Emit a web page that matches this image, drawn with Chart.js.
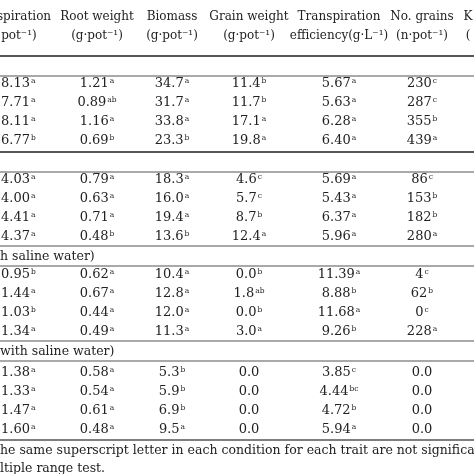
<!DOCTYPE html>
<html>
<head>
<meta charset="utf-8">
<script src="https://cdn.jsdelivr.net/npm/chart.js@4"></script>
<style>
  body { margin: 0; background: #fff; }
</style>
</head>
<body>
<canvas id="tableChart" width="474" height="474"></canvas>
<script>
// header texts (columns cut at page edges as in the source)
const headers = [
  ['spiration', '·pot⁻¹)'],
  ['Root weight', '(g·pot⁻¹)'],
  ['Biomass', '(g·pot⁻¹)'],
  ['Grain weight', '(g·pot⁻¹)'],
  ['Transpiration', 'efficiency(g·L⁻¹)'],
  ['No. grains', '(n·pot⁻¹)'],
  ['K', '(']
];

// values per column, with superscript letters
const transpiration = ['8.13', '7.71', '8.11', '6.77', '4.03', '4.00', '4.41', '4.37', '0.95', '1.44', '1.03', '1.34', '1.38', '1.33', '1.47', '1.60'];
const transpLetters = ['a', 'a', 'a', 'b', 'a', 'a', 'a', 'a', 'b', 'a', 'b', 'a', 'a', 'a', 'a', 'a'];
const rootWeight = ['1.21', '0.89', '1.16', '0.69', '0.79', '0.63', '0.71', '0.48', '0.62', '0.67', '0.44', '0.49', '0.58', '0.54', '0.61', '0.48'];
const rootLetters = ['a', 'ab', 'a', 'b', 'a', 'a', 'a', 'b', 'a', 'a', 'a', 'a', 'a', 'a', 'a', 'a'];
const biomass = ['34.7', '31.7', '33.8', '23.3', '18.3', '16.0', '19.4', '13.6', '10.4', '12.8', '12.0', '11.3', '5.3', '5.9', '6.9', '9.5'];
const biomassLetters = ['a', 'a', 'a', 'b', 'a', 'a', 'a', 'b', 'a', 'a', 'a', 'a', 'b', 'b', 'b', 'a'];
const grainWeight = ['11.4', '11.7', '17.1', '19.8', '4.6', '5.7', '8.7', '12.4', '0.0', '1.8', '0.0', '3.0', '0.0', '0.0', '0.0', '0.0'];
const grainLetters = ['b', 'b', 'a', 'a', 'c', 'c', 'b', 'a', 'b', 'ab', 'b', 'a', '', '', '', ''];
const efficiency = ['5.67', '5.63', '6.28', '6.40', '5.69', '5.43', '6.37', '5.96', '11.39', '8.88', '11.68', '9.26', '3.85', '4.44', '4.72', '5.94'];
const effLetters = ['a', 'a', 'a', 'a', 'a', 'a', 'a', 'a', 'a', 'b', 'a', 'b', 'c', 'bc', 'b', 'a'];
const grains = ['230', '287', '355', '439', '86', '153', '182', '280', '4', '62', '0', '228', '0.0', '0.0', '0.0', '0.0'];
const grainsLetters = ['c', 'c', 'b', 'a', 'c', 'b', 'b', 'a', 'c', 'b', 'c', 'a', '', '', '', ''];

const sectionTitles = ['', '', 'h saline water)', 'with saline water)'];
const footnote = ['he same superscript letter in each condition for each trait are not significantly', 'ltiple range test.'];

const columns = [
  [transpiration, transpLetters],
  [rootWeight, rootLetters],
  [biomass, biomassLetters],
  [grainWeight, grainLetters],
  [efficiency, effLetters],
  [grains, grainsLetters]
];

// layout (pixel units of the 474 box)
const colX = [25, 97, 172, 249, 339, 422, 468];
const headerY = [17, 36];
const sectionY = [66, 162, 257, 352];
const rowY = [84, 103, 122, 141, 180, 199, 218, 237, 275, 294, 313, 332, 373, 392, 411, 430];
const rules = [[56, 2.2], [76, 1.2], [152, 2.2], [172, 1.2], [246, 1.2], [266, 1.2], [341, 1.2], [361, 1.2], [440, 1.5]];
const footY = [451, 469];

const SERIF = '"DejaVu Serif", "Liberation Serif", serif';

const tablePlugin = {
  id: 'tablePlugin',
  afterDraw(chart) {
    const ctx = chart.ctx;
    const xs = chart.scales.x;
    const ys = chart.scales.y;
    ctx.save();
    ctx.fillStyle = '#fff';
    ctx.fillRect(0, 0, chart.width, chart.height);
    ctx.fillStyle = '#222';
    ctx.textBaseline = 'middle';

    // header
    ctx.font = '12px ' + SERIF;
    ctx.textAlign = 'center';
    headers.forEach((h, i) => {
      const x = xs.getPixelForValue(colX[i]);
      ctx.fillText(h[0], i === 0 ? x - 1 : x, ys.getPixelForValue(headerY[0]));
      ctx.fillText(h[1], i === 0 ? x - 8 : x, ys.getPixelForValue(headerY[1]));
    });

    // rules
    ctx.strokeStyle = '#555';
    rules.forEach(([y, w]) => {
      ctx.lineWidth = w;
      ctx.beginPath();
      ctx.moveTo(0, ys.getPixelForValue(y));
      ctx.lineTo(chart.width, ys.getPixelForValue(y));
      ctx.stroke();
    });

    // section titles
    ctx.textAlign = 'left';
    ctx.font = '12.5px ' + SERIF;
    sectionTitles.forEach((t, i) => {
      if (t) ctx.fillText(t, 0, ys.getPixelForValue(sectionY[i]));
    });

    // cells
    columns.forEach(([vals, letters], c) => {
      const cx = xs.getPixelForValue(colX[c]);
      vals.forEach((v, r) => {
        const y = ys.getPixelForValue(rowY[r]);
        ctx.font = '13px ' + SERIF;
        const w1 = ctx.measureText(v).width;
        ctx.font = '7.5px ' + SERIF;
        const w2 = letters[r] ? ctx.measureText(letters[r]).width + 1 : 0;
        let start = cx - (w1 + w2) / 2;
        if (c === 0) start = 1;
        ctx.textAlign = 'left';
        ctx.font = '13px ' + SERIF;
        ctx.fillText(v, start, y);
        if (letters[r]) {
          ctx.font = '7.5px ' + SERIF;
          ctx.fillText(letters[r], start + w1 + 1, y - 3);
        }
      });
    });

    // footnote
    ctx.font = '12.5px ' + SERIF;
    ctx.textAlign = 'left';
    footnote.forEach((t, i) => ctx.fillText(t, 0, ys.getPixelForValue(footY[i])));
    ctx.restore();
  }
};

new Chart(document.getElementById('tableChart'), {
  type: 'scatter',
  data: { datasets: [{ data: [], pointRadius: 0 }] },
  options: {
    responsive: false,
    animation: false,
    layout: { padding: 0 },
    plugins: { legend: { display: false }, tooltip: { enabled: false } },
    scales: {
      x: { type: 'linear', min: 0, max: 474, display: false },
      y: { type: 'linear', min: 0, max: 474, reverse: true, display: false }
    }
  },
  plugins: [tablePlugin]
});
</script>
</body>
</html>
